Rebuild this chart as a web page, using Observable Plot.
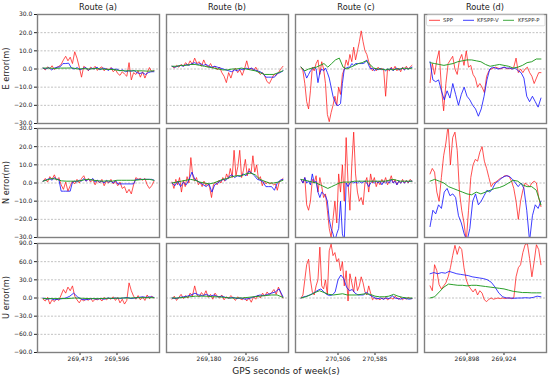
<!DOCTYPE html>
<html>
<head>
<meta charset="utf-8">
<script src="https://cdn.jsdelivr.net/npm/d3@7"></script>
<script src="https://cdn.jsdelivr.net/npm/@observablehq/plot@0.6"></script>
<style>
  body { margin: 0; background: white; }
  #wrap { position: relative; width: 550px; height: 379px; overflow: hidden; font-family: "DejaVu Sans", sans-serif; }
  #wrap > svg, #wrap > figure { position: absolute; margin: 0; }
</style>
</head>
<body>
<div id="wrap"></div>
<script>
// ---------- labels & ticks ----------
const routes = ["Route (a)", "Route (b)", "Route (c)", "Route (d)"];
const rowLabels = ["E error(m)", "N error(m)", "U error(m)"];
const xLabel = "GPS seconds of week(s)";
const seriesNames = ["SPP", "KFSPP-V", "KFSPP-P"];
const xTicks = [[269473, 269596], [269180, 269256], [270506, 270585], [269898, 269924]];
const yTicksEN = [-30, -20, -10, 0, 10, 20, 30];
const yTicksU = [-90, -60, -30, 0, 30, 60, 90];

// ---------- Route (a) ----------
const spp_a_E = [0.5,-0.5,1.2,0.2,1.8,-0.3,0.8,1.5,2.5,5.0,7.0,4.5,6.5,3.0,9.5,6.0,1.0,-4.5,1.5,0.5,-1.0,1.0,0.0,1.5,-0.8,0.5,1.2,-1.0,0.3,-0.5,0.8,-1.5,-0.3,-2.5,-3.5,-1.5,-2.8,-4.0,3.5,-6.0,-2.0,-3.0,-1.0,-4.5,-1.5,-5.0,-2.0,0.8,-1.5,-1.0];
const kfv_a_E = [0.5,0.0,0.8,-0.5,0.5,1.0,1.2,3.0,3.0,3.2,0.5,0.0,0.8,-0.5,0.3,0.8,-0.6,0.5,0.0,1.0,-0.5,0.5,0.2,-0.8,0.5,-0.3,0.0,-1.0,-0.5,-1.5,-1.0,-1.2,-0.8,-2.0,-2.5,-2.0,-3.0,-2.0,-1.5,-1.5];
const kfp_a_E = [0.5,0.5,0.3,0.5,0.5,0.6,0.0,0.2,0.0,0.3,0.0,-0.2,-0.3,-0.8,-1.0,-1.0,-1.0,-1.0,-1.2,-1.0];

const spp_a_N = [1.0,2.5,0.5,3.5,2.0,4.5,1.5,3.0,-1.0,-3.5,0.5,-4.5,-1.5,1.0,-0.5,2.0,0.0,2.5,4.0,1.0,2.5,0.5,2.0,-1.0,1.5,0.0,2.0,-1.5,1.0,0.0,2.0,-0.5,1.0,-1.5,0.5,-3.0,-2.0,-5.5,-3.5,-6.0,-1.0,3.0,2.0,2.5,1.5,2.5,-1.0,-3.0,-1.5,1.0];
const kfv_a_N = [1.0,1.5,2.0,2.5,1.5,3.0,2.0,2.0,-4.5,-4.5,-4.5,-4.5,-4.5,0.5,1.0,0.5,1.5,1.0,2.5,1.0,2.0,1.5,2.5,0.5,1.5,0.5,1.0,0.0,1.5,0.5,1.0,0.0,1.5,-0.5,-0.5,-0.5,-0.5,-0.5,-0.5,-0.5,-0.5,2.0,2.0,2.0,2.0,2.0,2.0,2.0,2.0,1.5];
const kfp_a_N = [1.0,1.8,2.5,2.0,1.2,1.0,1.0,1.0,1.2,1.8,2.0,1.5,1.2,1.0,1.2,1.0,1.5,1.5,1.5,1.5,1.5,1.8,2.0,2.0,1.5];

const spp_a_U = [-2,-5,1,-10,-3,-6,-1,-4,5,14,8,18,12,20,3,-3,-8,-2,-5,-1,-4,0,-6,-2,-3,-1,-5,1,-3,0,-2,2,-4,1,-8,-2,-10,-4,25,12,3,-2,4,-3,2,-4,5,-1,3,0];
const kfv_a_U = [0,-2,-1,-3,-2,-1,0,3,8,2,-2,-3,-2,-1,-2,-1,-2,0,-1,0,-1,0,1,-1,0,1,2,1,2,1];
const kfp_a_U = [-1,-1,-1,-1,0,-0.5,-1,-1,-0.5,-0.5,0,0,0.5,0.5,0.5];

// ---------- Route (b) ----------
const spp_b_E = [1.5,0.5,2.0,1.0,2.5,1.5,3.5,2.0,4.5,2.5,6.0,3.0,4.0,1.5,5.0,2.0,1.0,3.0,0.5,1.5,-0.5,1.0,-2.0,-4.0,-7.5,-2.0,-5.0,-1.0,0.5,-2.0,-0.5,-3.5,0.0,4.5,-0.5,0.5,-1.0,1.0,-1.5,-3.0,-2.0,-4.0,-7.0,-8.0,-5.5,-3.0,-3.5,-2.0,0.0,1.5];
const kfv_b_E = [1.5,1.0,1.5,2.0,1.5,2.5,2.0,3.0,3.5,2.5,3.0,2.0,2.5,1.5,1.0,1.5,1.0,0.5,0.0,-0.5,-1.0,-1.5,-0.5,-1.0,0.0,-0.5,0.5,0.0,0.5,-0.5,-1.0,-1.5,-2.5,-4.5,-4.5,-4.5,-4.5,-2.5,-2.0,-1.0];
const kfp_b_E = [1.5,1.5,2.0,2.0,2.5,2.5,2.0,1.5,1.0,0.5,0.0,-0.5,-0.5,0.0,0.0,0.5,0.0,-0.5,-1.0,-2.0,-3.0,-3.0,-3.0,-2.0,-1.0];

const spp_b_N = [0.5,-3.0,2.0,-1.0,3.0,-5.0,1.5,-2.0,3.5,0.0,14.0,4.0,1.0,3.0,-1.0,0.5,-2.0,1.0,-1.5,0.0,-2.5,-8.0,-1.0,0.5,-1.0,1.5,0.0,3.0,1.0,5.0,2.5,8.0,3.0,18.0,4.0,9.0,18.0,3.0,7.0,13.0,4.0,8.0,5.0,15.0,6.0,10.0,2.0,3.5,-1.5,1.0,-0.5,0.5,-0.5,0.0,-1.0,-0.5,-4.0,0.5,1.5,2.5];
const kfv_b_N = [0.0,-1.5,1.0,-2.0,0.5,-1.0,2.0,6.0,2.0,1.0,0.0,-1.0,-2.0,-0.5,-5.0,-1.0,0.0,1.0,2.0,1.5,3.5,4.5,3.0,4.0,3.5,5.0,4.0,6.5,5.5,4.0,2.0,1.5,0.5,-2.0,-2.0,-2.0,-4.0,0.0,1.5,2.0];
const kfp_b_N = [0.0,0.5,1.0,1.5,2.0,1.5,0.5,0.0,-0.5,0.0,1.0,2.0,2.5,3.5,4.0,4.0,5.0,5.5,4.5,2.0,1.0,0.0,0.0,0.5,1.5];

const spp_b_U = [-2,3,-4,1,6,-1,4,0,8,3,20,5,2,9,4,12,1,6,-2,8,3,0,5,-3,2,-1,4,0,-4,2,-1,-3,1,-5,0,-7,2,-2,5,0,8,3,10,5,9,14,6,18,8,0];
const kfv_b_U = [0,-1,1,2,3,5,8,5,4,6,3,5,2,3,1,0,1,-1,0,-2,-1,1,3,5,4,6,8,10,15,2];
const kfp_b_U = [0,0,1,2,3,3,3,2,2,1,0,0,0,1,2,3,4,5,5,1];

// ---------- Route (c) ----------
const spp_c_E = [1,-1,-8,-18,-22,-12,1,-1,3,5,-3,4,0,-8,-25,-29,-24,-20,-15,-20,-10,-14,-3,0,5,2,8,4,12,5,10,15,21,15,10,8,4,1,-1,0.5,-1,1,-0.5,0.5,-1,-15,0,-1,1,-0.5,1.5,-1,0.5,-1.5,1,-0.5,1.5,0,1,2];
const kfv_c_E = [1,0,-2,-5,-3,-1,0,1,0,-7.5,-2,0,-1,0.5,-2,-5,-10,-15,-18,-20,-20,-19,-8,0,0.5,1,1,3,2,3,3,3,3,3,3.5,5,2,0,0.5,-1,0,-0.5,0.5,-0.5,0,-1,0,-0.5,0.5,-1,0,0.5,-0.5,0,0.5,-0.5,0.5,0,0.5,1];
const kfp_c_E = [1,-1,0,0.5,1,2,3,1,3,5,6,1,0,1,2,3,3.5,4.5,2.5,0.5,0,0,-0.5,0,-0.5,0,0,0.5,0,0.5];

const spp_c_N = [2,0,3,-12,-15,-10,2,0,4,-5,3,-2,-8,-6,-15,-25,-30,-20,-10,-22,5,-5,10,-10,25,0,-15,10,28,5,-5,-10,-8,-12,0,3,-5,5,0,3,-2,1,-1,2,0,3,-1,1,4,0,2,-1,1,0,2,0,1.5,0,2,1];
const kfv_c_N = [2,0,3,0,1,-1,5,0,1,-5,-8,-5,-6,-7,-10,-20,-25,-28,-32,-28,-25,-10,-28,-32,0,-2,0,1,0,0.5,0,1,0,0.5,1,0,-2,0,1,0,1,0,1,-1,1,0,1,0,2,0,1,-1,1,0,1,0,1,0.5,1,1];
const kfp_c_N = [2,1.5,1,0.5,0,-1,-2,-3,-2,-1,0,0.5,0.5,0.5,1,1,1,1,1,1,1,1,1,1.5,2,1.5,1,1,1,1];

const spp_c_U = [0,5,30,55,64,30,10,5,20,30,84,20,15,30,5,78,89,70,75,60,65,45,60,20,45,-5,40,25,10,35,12,20,35,25,10,5,20,8,-3,0,-2,-1,-3,0,-2,1,-3,-1,0,-2,3,0,-2,1,-3,0,-2,1,-1,-1];
const kfv_c_U = [0,2,3,5,7,10,13,15,10,6,4,5,10,30,38,32,18,12,14,8,5,5,5,10,5,3,0,-1,0,-2,0,-1,4,0,-1,-2,0,-1,-2,-1];
const kfp_c_U = [0,2,5,9,12,9,6,5,6,7,5,5,5,6,7,6,3,2,2,3,6,3,1,0,0];

// ---------- Route (d) ----------
const spp_d_E = [-7.5,3,-3,5,10,-10,-23,-8,3,5,7,0,-3,5,8,2,10,1,2,-3,-5,-10,-8,-10,-13,-4,-1,0,0.5,1,0.5,0,0.5,1,0,0.5,0,1,6,-2,0,-2,0,1,-2,-4,-8,-5,-2,-2];
const kfv_d_E = [4,-6,-7,-6,-12,-17,-12,-16,-8,-14,-20,-14,-10,-15,-17,-20,-22,-26,-22,-15,-6,0,1,0.5,0,0.5,1,0.5,0.5,0,0.5,-1,-2,-5,-15,-18,-15,-18,-21,-16];
const kfp_d_E = [3.5,3,2.5,2,2.5,3,4,4.5,5,5,4.5,4,2.5,1.5,2,2.5,2,1.5,0.5,1,2,3.5,4,5.5,5.5];

const spp_d_N = [5,8,6,-5,-10,3,15,22,32,10,25,28,18,-5,-15,-22,-32,-15,3,10,13,12,17,20,12,8,3,-2,0,0.5,1.5,2.5,3,4,4,3.5,1,-3,-10,-20,-10,-4,0,-1,-2,0,1,0,-8,-13];
const kfv_d_N = [-24,-15,-17,-12,-14,-5,-3,-7,-6,-8,-18,-22,-28,-32,-25,-10,-6,-12,-10,-7,-4,-5,-3,0,1,2.5,3.5,4,3.5,2,0,-2,0,-3,-15,-32,-18,-12,-14,-10];
const kfp_d_N = [1,2,1,0,-2,-3,-4,-5,-6,-6.5,-5,-6,-5,-4,-3,-2.5,-1.5,0,1.5,1,-1,-2,-2,-4,-12];

const spp_d_U = [20,12,55,45,22,15,20,25,35,50,70,87,72,85,80,50,30,20,15,10,15,5,12,8,-3,-6,-2,0,-2,-1,0,-1,0,-1,0,0,-1,0,35,50,55,75,88,90,65,35,60,88,80,55];
const kfv_d_U = [40,42,40,42,41,44,42,40,39,38,37,35,34,33,32,30,26,18,8,2,0,0,-0.5,0,0,0.5,0,1,3,2];
const kfp_d_U = [0,2,10,18,23,22,21,21,20,21,21,20,19,18,17,16,15,13,11,10,9,9,8.5,8.5,8.5];

// table built from the named arrays: [column][row] -> [SPP, KFSPP-V, KFSPP-P]
const table = [
  [[spp_a_E, kfv_a_E, kfp_a_E], [spp_a_N, kfv_a_N, kfp_a_N], [spp_a_U, kfv_a_U, kfp_a_U]],
  [[spp_b_E, kfv_b_E, kfp_b_E], [spp_b_N, kfv_b_N, kfp_b_N], [spp_b_U, kfv_b_U, kfp_b_U]],
  [[spp_c_E, kfv_c_E, kfp_c_E], [spp_c_N, kfv_c_N, kfp_c_N], [spp_c_U, kfv_c_U, kfp_c_U]],
  [[spp_d_E, kfv_d_E, kfp_d_E], [spp_d_N, kfv_d_N, kfp_d_N], [spp_d_U, kfv_d_U, kfp_d_U]]
];

const colors = ["#ff1a1a", "#1010ff", "#1f9a1f"];
const widths = [0.85, 0.9, 1.0];
const opac = [0.9, 0.9, 0.95];

// layout
const colLeft = [37, 166, 295, 424];
const rowTop = [14, 128, 243];
const PW = 122, PH = 109;

const wrap = document.getElementById("wrap");
const fmtY = d => (d < 0 ? "\u2212" : "") + Math.abs(d).toFixed(1);
const fmtX = d3.format(",");

for (let ci = 0; ci < 4; ci++) {
  for (let ri = 0; ri < 3; ri++) {
    const [k1, k2] = xTicks[ci];
    const step = k2 - k1;
    const t0 = k1 - step, t1 = k2 + step, span = t1 - t0;
    const dom = [t0 - 0.05 * span, t1 + 0.05 * span];
    const yMax = ri === 2 ? 90 : 30;
    const yt = ri === 2 ? yTicksU : yTicksEN;
    const mL = ci === 0 ? 34 : 2, mR = 2, mT = 2, mB = ri === 2 ? 14 : 2;
    const marks = [
      Plot.ruleY(yt.filter(v => Math.abs(v) < yMax), {stroke: "#a8a8a8", strokeWidth: 0.7, strokeDasharray: "2,1.5"})
    ];
    table[ci][ri].forEach((arr, si) => {
      const n = arr.length;
      const pts = arr.map((v, i) => ({t: t0 + span * i / (n - 1), v, s: seriesNames[si]}));
      marks.push(Plot.line(pts, {x: "t", y: "v", stroke: colors[si], strokeWidth: widths[si], strokeOpacity: opac[si], clip: true}));
    });
    if (ci === 0) marks.push(Plot.axisY(yt, {tickFormat: fmtY, tickSize: 3, tickPadding: 2.2, label: null, fontSize: 6}));
    if (ri === 2) marks.push(Plot.axisX([k1, k2], {tickFormat: fmtX, tickSize: 3, tickPadding: 1.5, label: null, fontSize: 6}));
    marks.push(Plot.frame({stroke: "#808080", strokeWidth: 1.4}));
    const svg = Plot.plot({
      width: PW + mL + mR, height: PH + mT + mB,
      marginLeft: mL, marginRight: mR, marginTop: mT, marginBottom: mB,
      x: {domain: dom, axis: null},
      y: {domain: [-yMax, yMax], axis: null},
      style: {fontFamily: "DejaVu Sans", fontSize: "6px", background: "transparent", color: "#222", overflow: "visible"},
      marks
    });
    svg.style.left = (colLeft[ci] - mL) + "px";
    svg.style.top = (rowTop[ri] - mT) + "px";
    wrap.appendChild(svg);
  }
}

// overlay texts and legend
const ov = d3.create("svg").attr("width", 550).attr("height", 379)
  .style("left", "0px").style("top", "0px").style("pointer-events", "none")
  .attr("font-family", "DejaVu Sans");
routes.forEach((r, i) => {
  ov.append("text").attr("x", colLeft[i] + PW / 2).attr("y", 9.8)
    .attr("text-anchor", "middle").attr("font-size", 8.2).attr("fill", "#222").text(r);
});
rowLabels.forEach((r, i) => {
  const cy = rowTop[i] + PH / 2;
  ov.append("text").attr("transform", `translate(9,${cy}) rotate(-90)`)
    .attr("text-anchor", "middle").attr("font-size", 8.2).attr("fill", "#222").text(r);
});
ov.append("text").attr("x", 286).attr("y", 373.5).attr("text-anchor", "middle")
  .attr("font-size", 9).attr("fill", "#222").text(xLabel);

// legend in Route (d) top panel
const lg = ov.append("g");
lg.append("rect").attr("x", 426.5).attr("y", 14.8).attr("width", 118.5).attr("height", 11)
  .attr("rx", 1.5).attr("fill", "white").attr("fill-opacity", 0.85).attr("stroke", "#d0d0d0").attr("stroke-width", 0.7);
const legX = [[429, 440, 443], [463, 474, 477], [503, 514, 518]];
seriesNames.forEach((s, i) => {
  lg.append("line").attr("x1", legX[i][0]).attr("x2", legX[i][1]).attr("y1", 20.3).attr("y2", 20.3)
    .attr("stroke", colors[i]).attr("stroke-width", 0.9).attr("stroke-opacity", opac[i]);
  lg.append("text").attr("x", legX[i][2]).attr("y", 22.2).attr("font-size", 5.4).attr("fill", "#333").text(s);
});
wrap.appendChild(ov.node());
</script>
</body>
</html>
